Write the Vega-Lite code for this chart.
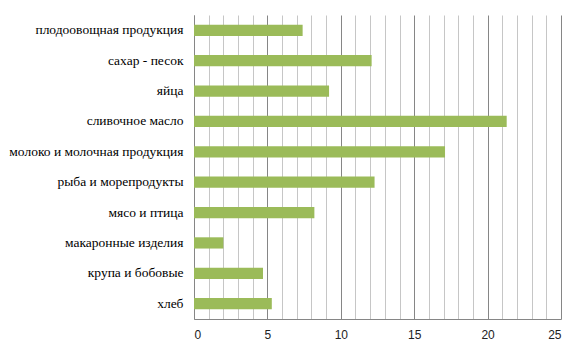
{
  "$schema": "https://vega.github.io/schema/vega-lite/v6.json",
  "autosize": "none",
  "width": 367,
  "height": 304,
  "padding": {"left": 194, "top": 15, "right": 22, "bottom": 34},
  "background": "white",
  "data": {"values": [
    {"cat": "плодоовощная продукция", "v": 7.4},
    {"cat": "сахар  - песок", "v": 12.1},
    {"cat": "яйца", "v": 9.2},
    {"cat": "сливочное масло", "v": 21.3},
    {"cat": "молоко и молочная продукция", "v": 17.1},
    {"cat": "рыба и морепродукты", "v": 12.3},
    {"cat": "мясо и птица", "v": 8.2},
    {"cat": "макаронные изделия", "v": 2.0},
    {"cat": "крупа  и бобовые", "v": 4.7},
    {"cat": "хлеб", "v": 5.3}
  ]},
  "config": {"view": {"stroke": null}},
  "mark": {"type": "bar", "color": "#9BBB59"},
  "encoding": {
    "y": {
      "field": "cat", "type": "nominal", "sort": null,
      "scale": {"paddingInner": 0.63, "paddingOuter": 0.32},
      "axis": {
        "title": null, "ticks": false, "domain": true, "domainColor": "#868686",
        "labelFont": "Liberation Serif", "labelFontSize": 13.5, "labelColor": "#000000",
        "labelPadding": 11, "labelLimit": 0
      }
    },
    "x": {
      "field": "v", "type": "quantitative",
      "scale": {"domain": [0, 25], "nice": false},
      "axis": {
        "title": null,
        "values": [0,1,2,3,4,5,6,7,8,9,10,11,12,13,14,15,16,17,18,19,20,21,22,23,24,25],
        "labelExpr": "datum.value % 5 === 0 ? datum.label : ''",
        "ticks": false, "domainColor": "#868686",
        "grid": true,
        "gridColor": {"condition": {"test": "datum.value % 5 === 0", "value": "#868686"}, "value": "#c6c6c6"},
        "gridWidth": 1,
        "labelFont": "Liberation Sans", "labelFontSize": 12, "labelColor": "#222222",
        "labelPadding": 10
      }
    }
  }
}
